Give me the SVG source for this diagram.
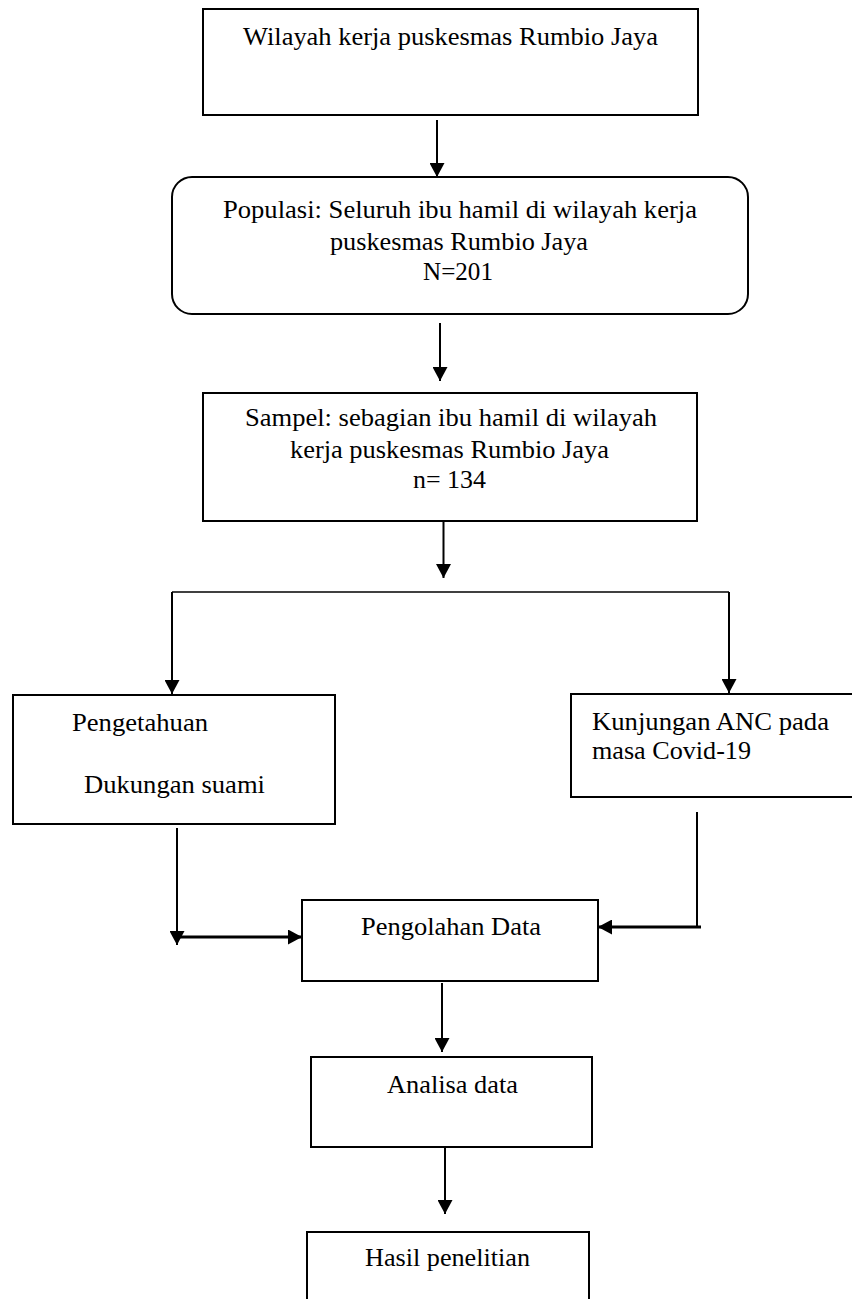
<svg xmlns="http://www.w3.org/2000/svg" width="852" height="1299" viewBox="0 0 852 1299">
<defs>
<style>
.box{fill:#fff;stroke:#000;stroke-width:2}
.t{font-family:"Liberation Serif","Times New Roman",serif;font-size:25px;fill:#000}
.c{fill:none;stroke:#000;stroke-width:2}
.thin{stroke-width:1.3}
.thick{stroke-width:3}
</style>
<marker id="ah" markerUnits="userSpaceOnUse" markerWidth="15" markerHeight="15" refX="14" refY="7.5" orient="auto" viewBox="0 0 15 15">
<path d="M0,0 L14,7.5 L0,15 Z" fill="#000"/>
</marker>
</defs>
<rect width="852" height="1299" fill="#fff"/>

<g id="wilayah">
<rect class="box" x="203" y="9" width="495" height="106"/>
<text class="t" x="243" y="45" textLength="415" lengthAdjust="spacingAndGlyphs">Wilayah kerja puskesmas Rumbio Jaya</text>
</g>

<g id="populasi">
<rect class="box" x="172" y="177" width="576" height="137" rx="20" ry="20"/>
<text class="t" x="223" y="218" textLength="474" lengthAdjust="spacingAndGlyphs">Populasi: Seluruh ibu hamil di wilayah kerja</text>
<text class="t" x="330" y="250" textLength="258" lengthAdjust="spacingAndGlyphs">puskesmas Rumbio Jaya</text>
<text class="t" x="423" y="280" textLength="70" lengthAdjust="spacingAndGlyphs">N=201</text>
</g>

<g id="sampel">
<rect class="box" x="203" y="393" width="494" height="128"/>
<text class="t" x="245" y="426" textLength="412" lengthAdjust="spacingAndGlyphs">Sampel: sebagian ibu hamil di wilayah</text>
<text class="t" x="290" y="458" textLength="319" lengthAdjust="spacingAndGlyphs">kerja puskesmas Rumbio Jaya</text>
<text class="t" x="413" y="488" textLength="73" lengthAdjust="spacingAndGlyphs">n= 134</text>
</g>

<g id="pengetahuan">
<rect class="box" x="13" y="695" width="322" height="129"/>
<text class="t" x="72" y="731" textLength="136" lengthAdjust="spacingAndGlyphs">Pengetahuan</text>
<text class="t" x="84" y="793" textLength="181" lengthAdjust="spacingAndGlyphs">Dukungan suami</text>
</g>

<g id="kunjungan">
<rect class="box" x="571" y="694" width="300" height="103"/>
<text class="t" x="592" y="730" textLength="237" lengthAdjust="spacingAndGlyphs">Kunjungan ANC pada</text>
<text class="t" x="592" y="759" textLength="159" lengthAdjust="spacingAndGlyphs">masa Covid-19</text>
</g>

<g id="pengolahan">
<rect class="box" x="302" y="900" width="296" height="81"/>
<text class="t" x="361" y="935" textLength="180" lengthAdjust="spacingAndGlyphs">Pengolahan Data</text>
</g>

<g id="analisa">
<rect class="box" x="311" y="1057" width="281" height="90"/>
<text class="t" x="387" y="1093" textLength="131" lengthAdjust="spacingAndGlyphs">Analisa data</text>
</g>

<g id="hasil">
<rect class="box" x="307" y="1232" width="282" height="80"/>
<text class="t" x="365" y="1266" textLength="165" lengthAdjust="spacingAndGlyphs">Hasil penelitian</text>
</g>

<g id="connectors">
<path class="c" d="M437,120 V177" marker-end="url(#ah)"/>
<path class="c" d="M440,323 V381" marker-end="url(#ah)"/>
<path class="c" d="M443.5,522 V578" marker-end="url(#ah)"/>
<path class="c thin" d="M172,592 H729"/>
<path class="c" d="M172,592 V694" marker-end="url(#ah)"/>
<path class="c" d="M729,592 V693" marker-end="url(#ah)"/>
<path class="c" d="M177,828 V945" marker-end="url(#ah)"/>
<path class="c thick" d="M177,937 H302" marker-end="url(#ah)"/>
<path class="c" d="M697,812 V928"/>
<path class="c thick" d="M701,927 H598" marker-end="url(#ah)"/>
<path class="c" d="M442,983 V1052" marker-end="url(#ah)"/>
<path class="c" d="M445,1148 V1214" marker-end="url(#ah)"/>
</g>
</svg>
